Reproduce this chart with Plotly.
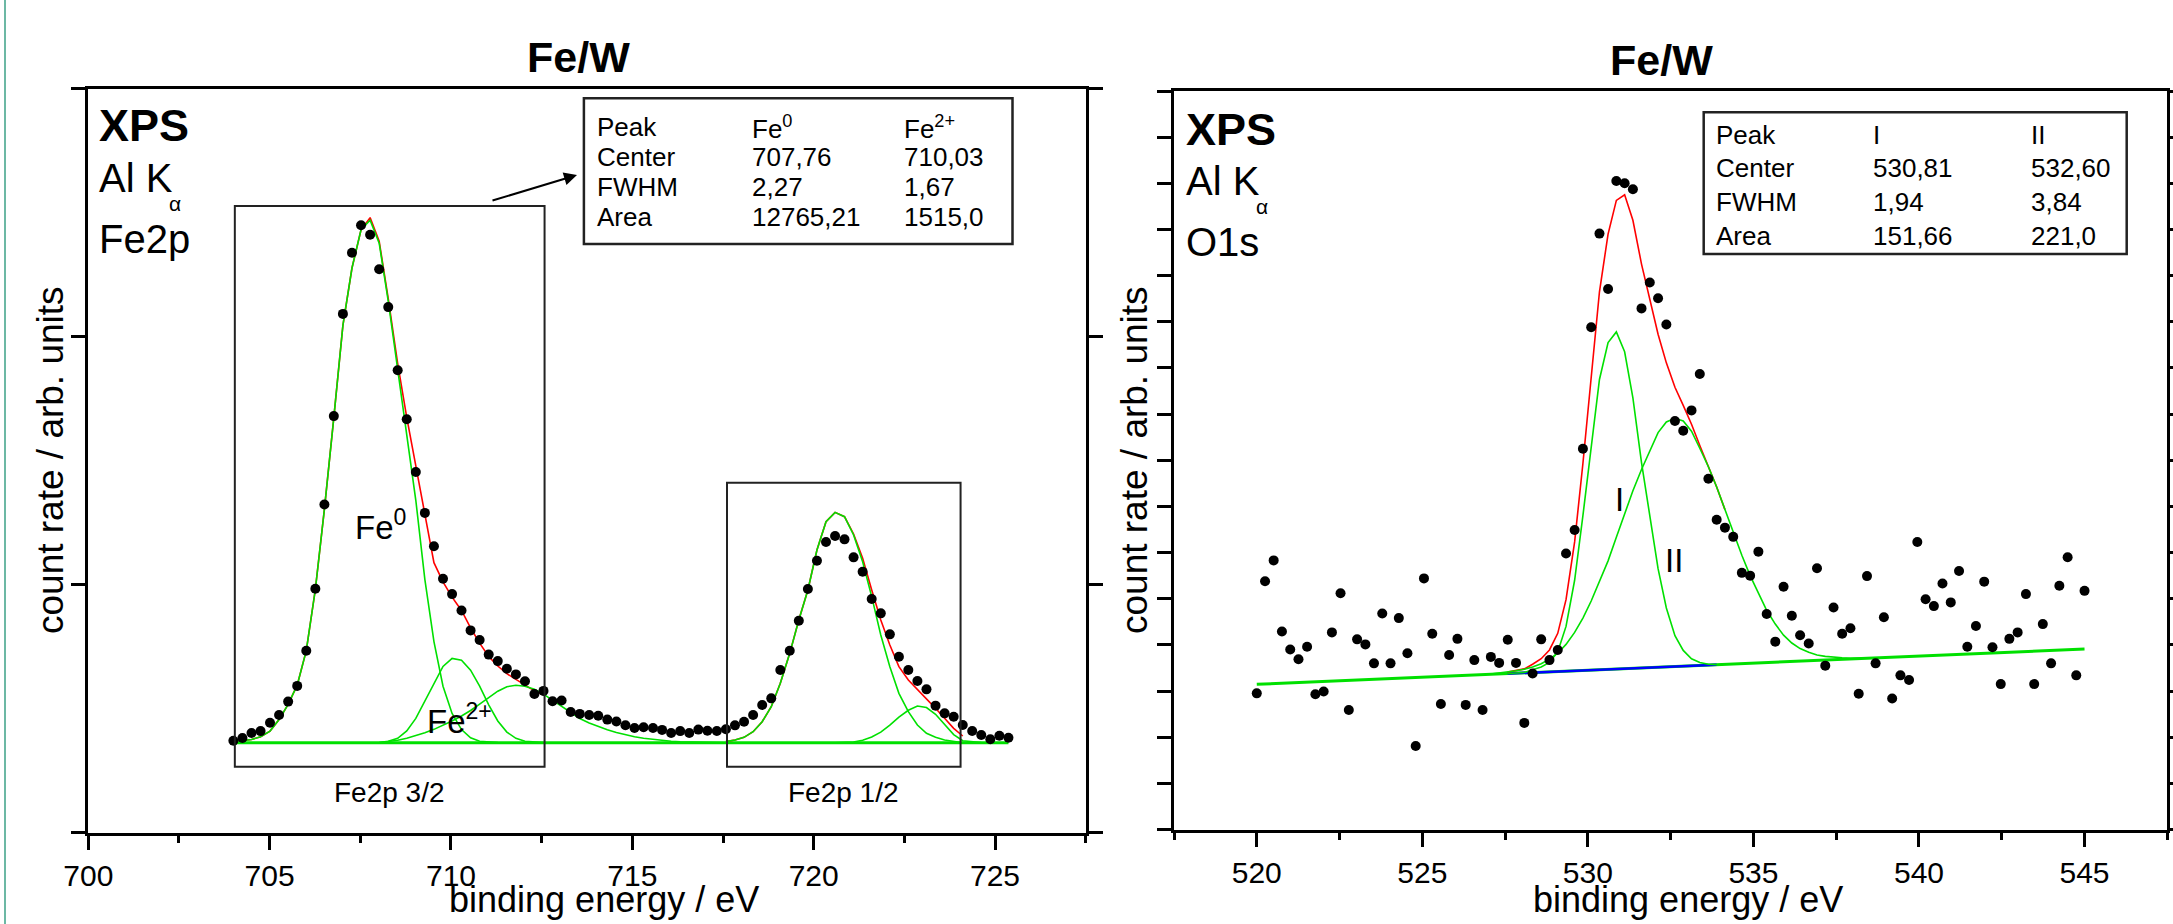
import plotly.graph_objects as go

W, H = 2173, 924
FONT = "Liberation Sans, Arial, Helvetica, sans-serif"

# ---------------- Fe2p panel (left) ----------------
fe_x = [704.00, 704.25, 704.50, 704.75, 705.01, 705.26, 705.51, 705.76, 706.01, 706.26,
        706.51, 706.77, 707.02, 707.27, 707.52, 707.77, 708.02, 708.27, 708.53, 708.78,
        709.03, 709.28, 709.53, 709.78, 710.03, 710.29, 710.54, 710.79, 711.04, 711.29,
        711.54, 711.79, 712.04, 712.30, 712.55, 712.80, 713.05, 713.30, 713.55, 713.81,
        714.06, 714.31, 714.56, 714.81, 715.06, 715.31, 715.57, 715.82, 716.07, 716.32,
        716.57, 716.82, 717.07, 717.33, 717.58, 717.83, 718.08, 718.33, 718.58, 718.83,
        719.08, 719.34, 719.59, 719.84, 720.09, 720.34, 720.59, 720.85, 721.10, 721.35,
        721.60, 721.85, 722.10, 722.35, 722.61, 722.86, 723.11, 723.36, 723.61, 723.86,
        724.11, 724.37, 724.62, 724.87, 725.12, 725.37]
fe_counts = [3702, 3811, 4013, 4090, 4429, 4739, 5280, 5913, 7333, 9833,
             13229, 16795, 20917, 23385, 24494, 24111, 22720, 21191, 18646, 16670,
             14540, 12890, 11547, 10233, 9615, 8954, 8151, 7764, 7175, 6913,
             6607, 6377, 6098, 5586, 5711, 5296, 5324, 4860, 4784, 4739,
             4707, 4554, 4477, 4324, 4215, 4243, 4215, 4138, 4013, 4090,
             4013, 4150, 4107, 4094, 4161, 4322, 4470, 4739, 5142, 5411,
             6554, 7334, 8544, 9821, 10964, 11717, 11959, 11824, 11098, 10520,
             9418, 8839, 7992, 7092, 6554, 6110, 5774, 5116, 4806, 4672,
             4336, 4094, 3932, 3758, 3905, 3825]
# fit components (index ranges into fe_x)
fe0_32 = [3658, 3690, 3751, 3860, 4090, 4554, 5171, 5941, 7333, 9801,
          13044, 16746, 20453, 22768, 24311, 24696, 23772, 21430, 18620, 16000,
          13400, 10200, 7700, 5900, 4800, 4150, 3820, 3680, 3640, 3625,
          3622, 3622, 3622, 3622, 3622]                       # i 0..34
fe2_32 = [3630, 3680, 3800, 4100, 4600, 5300, 6050, 6700, 7020, 6950,
          6550, 5900, 5150, 4500, 4050, 3800, 3680, 3640, 3625]  # i 16..34
sat_32 = [3622, 3660, 3720, 3800, 3900, 4020, 4160, 4320, 4500, 4700,
          4920, 5180, 5450, 5700, 5880, 5940, 5900, 5780, 5580, 5330,
          5070, 4820, 4600, 4420, 4270, 4140, 4030, 3940, 3860, 3800,
          3750, 3710, 3680, 3660, 3645, 3635, 3628, 3624, 3622]  # i 16..54
env_32 = [3658, 3690, 3751, 3860, 4090, 4554, 5171, 5941, 7333, 9801,
          13044, 16746, 20453, 22768, 24311, 24800, 23849, 21534, 18908, 16746,
          14742, 12886, 10882, 10111, 9494, 8954, 8256, 7639, 7099, 6715,
          6405, 6175, 5941, 5711, 5558]                       # i 0..34
fe0_12 = [3664, 3731, 3838, 4067, 4470, 5075, 6016, 7226, 8571, 9781,
          11394, 12537, 12913, 12738, 11999, 10923, 9512, 7966, 6689, 5613,
          4873, 4336, 4000, 3838, 3731, 3664, 3623]           # i 54..80
sat_12 = [3622, 3623, 3650, 3720, 3850, 4050, 4330, 4650, 4930, 5100,
          5040, 4770, 4380, 3950, 3700, 3650, 3630, 3622]     # i 66..83
env_12 = [3664, 3731, 3838, 4067, 4470, 5075, 6016, 7226, 8571, 9781,
          11394, 12537, 12913, 12738, 12040, 11058, 9781, 8571, 7563, 6689,
          6151, 5775, 5412, 5008, 4605, 4201, 3892]           # i 54..80
fe_base = [3622, 3622]
fe_table = [["Peak", "Fe<sup>0</sup>", "Fe<sup>2+</sup>"],
            ["Center", "707,76", "710,03"],
            ["FWHM", "2,27", "1,67"],
            ["Area", "12765,21", "1515,0"]]

# ---------------- O1s panel (right) ----------------
o_x = [520.00, 520.25, 520.51, 520.76, 521.01, 521.26, 521.52, 521.77, 522.02, 522.27,
       522.53, 522.78, 523.03, 523.28, 523.54, 523.79, 524.04, 524.29, 524.55, 524.80,
       525.05, 525.30, 525.56, 525.81, 526.06, 526.31, 526.57, 526.82, 527.07, 527.32,
       527.58, 527.83, 528.08, 528.33, 528.59, 528.84, 529.09, 529.34, 529.60, 529.85,
       530.10, 530.35, 530.61, 530.86, 531.11, 531.36, 531.62, 531.87, 532.12, 532.37,
       532.63, 532.88, 533.13, 533.38, 533.64, 533.89, 534.14, 534.39, 534.65, 534.90,
       535.15, 535.40, 535.66, 535.91, 536.16, 536.41, 536.67, 536.92, 537.17, 537.42,
       537.68, 537.93, 538.18, 538.43, 538.69, 538.94, 539.19, 539.44, 539.70, 539.95,
       540.20, 540.45, 540.71, 540.96, 541.21, 541.46, 541.72, 541.97, 542.22, 542.47,
       542.73, 542.98, 543.23, 543.48, 543.74, 543.99, 544.24, 544.49, 544.75, 545.00]
o_counts = [295, 538, 583, 429, 390, 369, 396, 293, 299, 427,
            512, 259, 412, 401, 360, 468, 360, 458, 382, 181,
            544, 424, 272, 378, 413, 270, 367, 259, 374, 361,
            411, 361, 231, 338, 412, 367, 389, 598, 649, 825,
            1088, 1291, 1171, 1405, 1400, 1387, 1129, 1185, 1151, 1094,
            885, 864, 908, 987, 760, 671, 654, 634, 556, 550,
            602, 467, 407, 526, 463, 421, 403, 566, 355, 481,
            424, 436, 294, 549, 360, 460, 284, 334, 324, 623,
            499, 484, 533, 492, 560, 396, 441, 537, 395, 315,
            413, 427, 510, 315, 445, 360, 528, 590, 334, 517]
o_peak1 = [338, 339, 340, 346, 352, 362, 385, 440, 540, 680,
           830, 975, 1055, 1078, 1035, 935, 795, 680, 565, 480,
           420, 388, 370, 362, 358, 357, 358]                 # i 30..56
o_peak2 = [337, 339, 341, 344, 347, 352, 359, 369, 382, 401,
           427, 458, 495, 536, 582, 633, 684, 734, 780, 821,
           860, 883, 891, 885, 863, 826, 786, 742, 693, 644,
           594, 550, 511, 475, 445, 421, 404, 392, 384, 378,
           375, 373, 372, 371, 371, 371, 372]                 # i 28..74
o_env = [341, 344, 348, 358, 370, 389, 425, 498, 623, 793,
         980, 1165, 1290, 1363, 1375, 1320, 1225, 1150, 1073, 1011,
         958, 919, 878, 832, 788, 742, 693]                   # i 30..56
o_base_x = [520.0, 545.0]
o_base = [314.6, 391.0]
o_bg_x = [527.58, 533.89]
o_bg = [337.8, 357.0]
o_table = [["Peak", "I", "II"],
           ["Center", "530,81", "532,60"],
           ["FWHM", "1,94", "3,84"],
           ["Area", "151,66", "221,0"]]

GREEN = "#00e000"
RED = "#ff0000"


def px(x):
    return x / W


def py(y):
    return 1 - y / H


fig = go.Figure()


def line(xs, ys, color, width, xa="x", ya="y"):
    fig.add_trace(go.Scatter(x=xs, y=ys, mode="lines", xaxis=xa, yaxis=ya,
                             line=dict(color=color, width=width), hoverinfo="skip"))


# left traces
line([fe_x[0], fe_x[-1]], fe_base, GREEN, 3)
line(fe_x[0:35], env_32, RED, 1.6)
line(fe_x[54:81], env_12, RED, 1.6)
line(fe_x[0:35], fe0_32, GREEN, 1.6)
line(fe_x[16:35], fe2_32, GREEN, 1.6)
line(fe_x[16:55], sat_32, GREEN, 1.6)
line(fe_x[54:81], fe0_12, GREEN, 1.6)
line(fe_x[66:84], sat_12, GREEN, 1.6)
fig.add_trace(go.Scatter(x=fe_x, y=fe_counts, mode="markers", xaxis="x", yaxis="y",
                         marker=dict(color="black", size=10), hoverinfo="skip"))

# right traces
line(o_base_x, o_base, GREEN, 3, "x2", "y2")
line(o_bg_x, o_bg, "#0000ff", 2.5, "x2", "y2")
line(o_x[30:57], o_env, RED, 1.6, "x2", "y2")
line(o_x[30:57], o_peak1, GREEN, 1.6, "x2", "y2")
line(o_x[28:75], o_peak2, GREEN, 1.6, "x2", "y2")
fig.add_trace(go.Scatter(x=o_x, y=o_counts, mode="markers", xaxis="x2", yaxis="y2",
                         marker=dict(color="black", size=10), hoverinfo="skip"))

axis_common = dict(showline=True, linewidth=3, linecolor="black", showgrid=False,
                   zeroline=False, ticks="outside", ticklen=14, tickwidth=3,
                   tickcolor="black", automargin=False)
xcommon = dict(axis_common, mirror=True, dtick=5,
               tickfont=dict(family=FONT, size=30, color="black"),
               ticklabelstandoff=0,
               minor=dict(dtick=2.5, ticks="outside", ticklen=7, tickwidth=3,
                          tickcolor="black", showgrid=False))
ycommon = dict(axis_common, mirror="ticks", showticklabels=False)

fig.update_layout(
    width=W, height=H, margin=dict(l=0, r=0, t=0, b=0),
    paper_bgcolor="white", plot_bgcolor="white", showlegend=False,
    xaxis=dict(xcommon, domain=[px(88.3), px(1085.7)], range=[700, 727.5],
               tick0=700, anchor="y"),
    yaxis=dict(ycommon, domain=[py(832.5), py(88.7)], range=[0, 30000],
               dtick=10000, anchor="x"),
    xaxis2=dict(xcommon, domain=[px(1174), px(2167.3)], range=[517.5, 547.5],
                tick0=520, anchor="y2"),
    yaxis2=dict(ycommon, domain=[py(829.5), py(91)], range=[0, 1600],
                dtick=100, anchor="x2"),
)

shapes = []
# peak region boxes (left panel)
for x0, x1, y1 in [(704.04, 712.58, 25269), (717.61, 724.05, 14109)]:
    shapes.append(dict(type="rect", xref="x", yref="y", x0=x0, x1=x1, y0=2654, y1=y1,
                       line=dict(color="#222222", width=2)))
# table frames
for x0, x1, y0, y1 in [(583.9, 1012.5, 98.3, 244), (1703.7, 2126.7, 112.3, 254)]:
    shapes.append(dict(type="rect", xref="paper", yref="paper", x0=px(x0), x1=px(x1),
                       y0=py(y1), y1=py(y0), line=dict(color="#222222", width=2.5)))
# thin teal edge line at far left
shapes.append(dict(type="line", xref="paper", yref="paper", x0=px(5), x1=px(5), y0=0, y1=1,
                   line=dict(color="#6cb8a4", width=2)))
fig.update_layout(shapes=shapes)

ann = []


def text(t, x, y, size, bold=False, xanchor="center", yanchor="middle", angle=0,
         xref="paper", yref="paper"):
    if xref == "paper":
        x = px(x)
    if yref == "paper":
        y = py(y)
    ann.append(dict(text=("<b>%s</b>" % t) if bold else t, x=x, y=y, xref=xref, yref=yref,
                    xanchor=xanchor, yanchor=yanchor, showarrow=False, textangle=angle,
                    font=dict(family=FONT, size=size, color="black")))


# titles
text("Fe/W", 578.5, 57, 43, bold=True)
text("Fe/W", 1661, 60, 43, bold=True)
# panel labels
for x0, lab, dy in [(97, "Fe2p", 0), (1183.5, "O1s", 3)]:
    text("XPS", x0, 126 + dy, 45, bold=True, xanchor="left")
    text("Al K", x0, 178 + dy, 40, xanchor="left")
    text(lab, x0, 239 + dy, 40, xanchor="left")
text("α", 175, 203, 21)
text("α", 1262, 206, 21)
# axis titles
text("binding energy / eV", 604, 899, 36)
text("binding energy / eV", 1688, 899, 36)
text("count rate / arb. units", 50, 460, 37, angle=-90)
text("count rate / arb. units", 1134, 460, 37, angle=-90)
# tables
for rows, cols, ys, size in [(fe_table, [594.6, 750, 901.8], [127, 157, 187, 217], 26),
                             (o_table, [1714, 1871.4, 2028.8], [135, 168.3, 201.7, 236], 26)]:
    for r, row in enumerate(rows):
        for c, cell in enumerate(row):
            text(cell, cols[c], ys[r], size, xanchor="left")
# box and peak labels (data coordinates)
text("Fe2p 3/2", 708.31, 1633, 28, xref="x", yref="y")
text("Fe2p 1/2", 720.83, 1633, 28, xref="x", yref="y")
text("Fe<sup>0</sup>", 707.3, 12402, 33, xanchor="left", xref="x", yref="y")
text("Fe<sup>2+</sup>", 709.28, 4558, 33, xanchor="left", xref="x", yref="y")
ann.append(dict(text="I", x=530.94, y=716, xref="x2", yref="y2", showarrow=False,
                font=dict(family=FONT, size=33, color="black")))
ann.append(dict(text="II", x=532.59, y=583, xref="x2", yref="y2", showarrow=False,
                font=dict(family=FONT, size=33, color="black")))
# arrow pointing to the table
ann.append(dict(text="", x=px(577), y=py(175), xref="paper", yref="paper",
                ax=-86, ay=26, axref="pixel", ayref="pixel", showarrow=True,
                arrowhead=2, arrowsize=1.3, arrowwidth=2, arrowcolor="black", standoff=0))
fig.update_layout(annotations=ann)

fig.write_html("out.html", config={"displayModeBar": False},
               post_script="document.body.style.margin='0px';")
